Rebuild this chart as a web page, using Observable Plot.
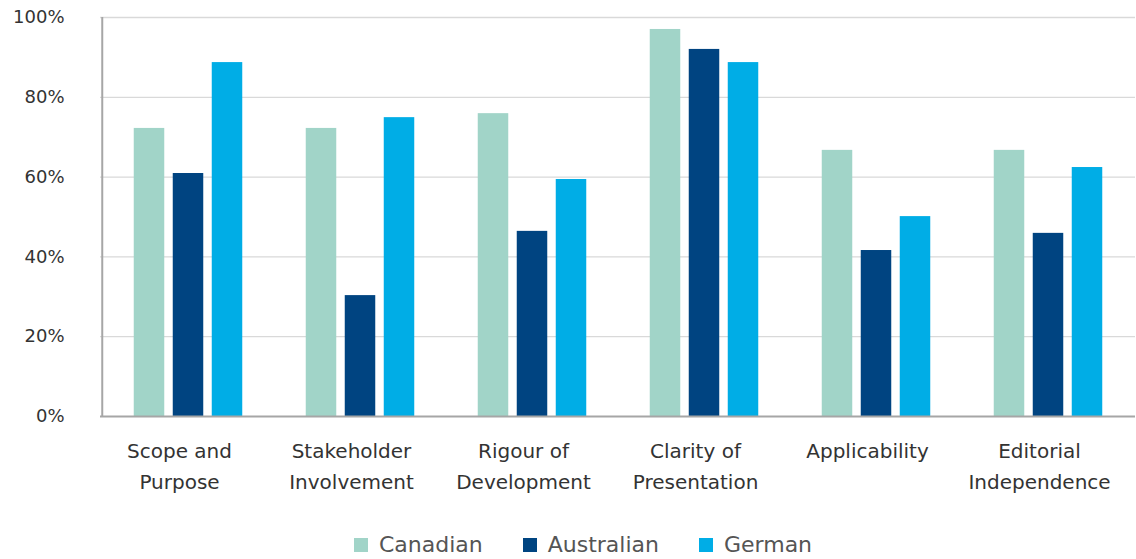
<!DOCTYPE html>
<html><head><meta charset="utf-8">
<script src="https://cdn.jsdelivr.net/npm/d3@7"></script>
<script src="https://cdn.jsdelivr.net/npm/@observablehq/plot@0.6"></script>
<style>
body{margin:0;background:#fff;font-family:"DejaVu Sans",sans-serif;}
#legend{display:flex;justify-content:center;align-items:center;height:39px;font-size:22px;color:#555;padding-left:30px;margin-top:5px;}
#legend span.item{display:flex;align-items:center;margin:0 20px;}
#legend span.sw{width:14px;height:14px;display:inline-block;margin-right:11px;}
</style></head>
<body><div id="chart"></div><div id="legend"></div>
<script>
const categories = ["Scope and Purpose","Stakeholder Involvement","Rigour of Development","Clarity of Presentation","Applicability","Editorial Independence"];
const categoryLabels = ["Scope and\nPurpose","Stakeholder\nInvolvement","Rigour of\nDevelopment","Clarity of\nPresentation","Applicability","Editorial\nIndependence"];
const series = ["Canadian","Australian","German"];
const canadian = [0.722, 0.722, 0.759, 0.970, 0.667, 0.667];
const australian = [0.609, 0.303, 0.464, 0.920, 0.416, 0.459];
const german = [0.887, 0.749, 0.594, 0.887, 0.501, 0.624];
const colors = ["#a1d4c8","#004481","#00ade6"];
const yTicks = [0,0.2,0.4,0.6,0.8,1];

const values = [canadian, australian, german];
const offsets = [-39, 0, 39];
const data = series.map((s,i)=>categories.map((c,j)=>({category:c, series:s, value:values[i][j]})));

const chart = Plot.plot({
  width:1136, height:520,
  marginLeft:100, marginRight:1, marginTop:17, marginBottom:104,
  style:{fontFamily:"DejaVu Sans, sans-serif", fontSize:"18px", color:"#333"},
  x:{domain:categories, padding:0, axis:null, label:null},
  y:{domain:[0,1], axis:null, label:null},
  marks:[
    Plot.gridY(yTicks.slice(1), {stroke:"#d9d9d9", strokeOpacity:1, strokeWidth:1.3}),
    ...data.map((d,i)=>Plot.barY(d, {x:"category", y:"value", fill:colors[i], dx:offsets[i], insetLeft:70.75, insetRight:70.75})),
    Plot.ruleY([0], {stroke:"#a6a6a6", strokeWidth:2}),
    Plot.ruleX([categories[0]], {x:d=>d, y1:0, y2:1, dx:-86.25, stroke:"#a6a6a6", strokeWidth:2}),
    Plot.axisY(yTicks, {tickSize:0, tickPadding:36, tickFormat:d3.format(".0%"), fontSize:18, fill:"#333", label:null}),
    Plot.axisX({tickSize:0, tickPadding:19, dx:-9, tickFormat:(d)=>categoryLabels[categories.indexOf(d)], lineHeight:1.55, fontSize:20, fill:"#333", label:null})
  ]
});
document.getElementById("chart").appendChild(chart);
const lg = document.getElementById("legend");
series.forEach((s,i)=>{
  const it=document.createElement("span"); it.className="item";
  const sw=document.createElement("span"); sw.className="sw"; sw.style.background=colors[i];
  it.appendChild(sw); it.appendChild(document.createTextNode(s)); lg.appendChild(it);
});
</script></body></html>
